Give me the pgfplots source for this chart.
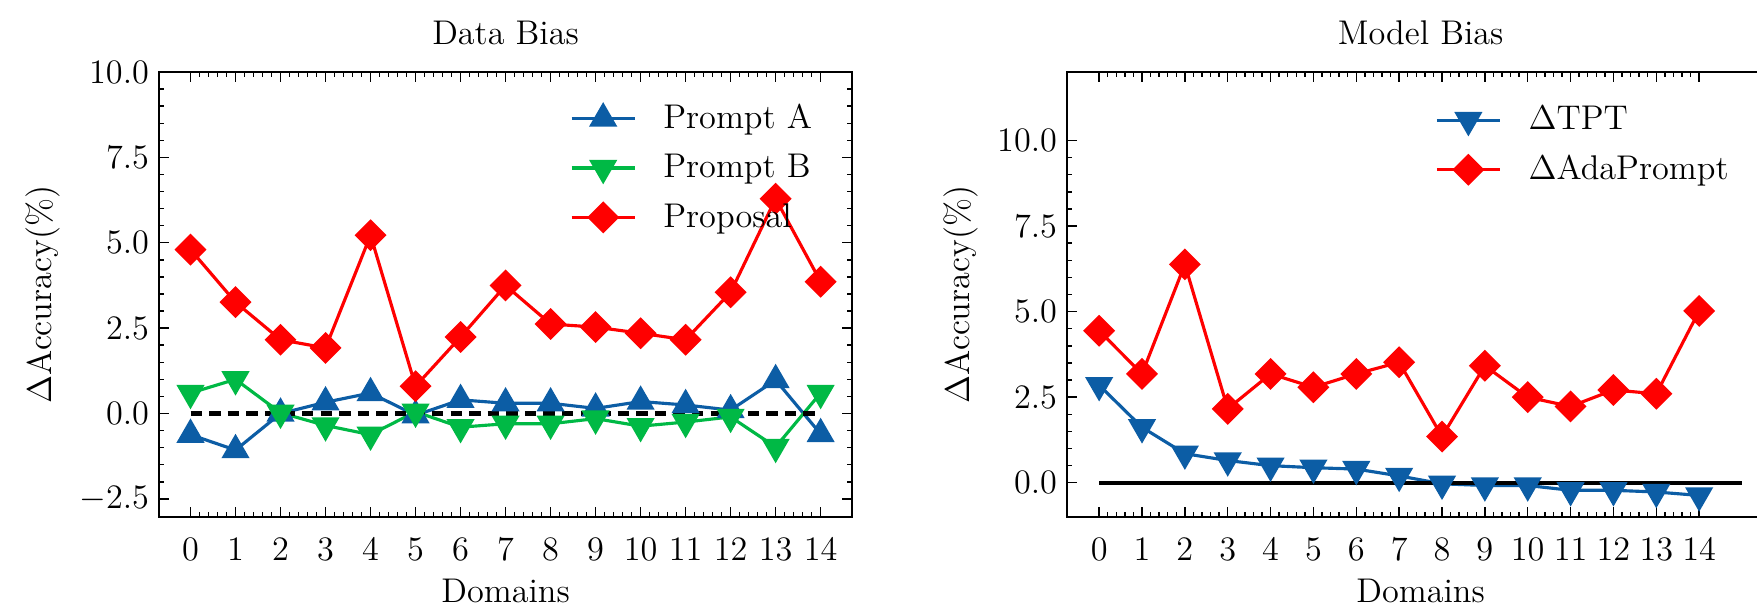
\documentclass[border=0pt]{standalone}
\usepackage{pgfplots}
\pgfplotsset{compat=1.18}

\definecolor{cblue}{HTML}{0C5DA5}
\definecolor{cgreen}{HTML}{00B945}
\definecolor{cred}{HTML}{FF0000}

\pgfplotsset{
  sci/.style={
    scale only axis,
    font=\fontsize{12}{14.4}\selectfont,
    axis line style={line width=0.6pt},
    tick align=inside,
    minor tick num=4,
    major tick length=3.5pt,
    minor tick length=1.75pt,
    every tick/.style={black, line width=0.5pt},
    xtick={0,...,14},
    xticklabel style={yshift=-4pt},
    xlabel={Domains},
    xlabel style={yshift=0.5pt},
    ylabel={$\Delta$Accuracy(\%)},
    yticklabel style={/pgf/number format/.cd, fixed, fixed zerofill, precision=1},
    legend cell align=left,
    legend style={draw=none, fill=none, row sep=3.5pt, font=\fontsize{12}{14.4}\selectfont,
      /tikz/every odd column/.append style={column sep=7.5pt}},
    legend image code/.code={
      \draw[mark repeat=2, mark phase=2] plot coordinates {(0pt,0pt)(11pt,0pt)(22pt,0pt)};
    },
  },
  ln/.style={line width=1.1pt},
  up/.style={ln, mark=triangle*, mark size=4.6pt},
  down/.style={ln, mark=triangle*, mark size=4.6pt, mark options={rotate=180}},
  dia/.style={ln, mark=square*, mark size=3.4pt, mark options={rotate=45}},
}

\begin{document}
\begin{tikzpicture}
\useasboundingbox (-55.65pt,-32.55pt) rectangle (559.3pt,180.95pt);

\begin{axis}[sci,
  at={(0pt,0pt)}, anchor=south west,
  width=242.6pt, height=155.75pt,
  xmin=-0.7, xmax=14.7,
  ymin=-3.03, ymax=10,
  ytick={-2.5,0,2.5,5,7.5,10},
  title={Data Bias},
  legend style={at={(0.58,0.955)}, anchor=north west},
]
\addplot[up, color=cblue] coordinates {
  (0,-0.62)(1,-1.07)(2,0.0)(3,0.33)(4,0.6)(5,-0.05)(6,0.4)(7,0.3)
  (8,0.3)(9,0.15)(10,0.35)(11,0.25)(12,0.1)(13,0.98)(14,-0.6)
};
\addlegendentry{Prompt A}
\addplot[down, color=cgreen] coordinates {
  (0,0.6)(1,1.0)(2,0.02)(3,-0.35)(4,-0.62)(5,0.05)(6,-0.4)(7,-0.3)
  (8,-0.3)(9,-0.15)(10,-0.37)(11,-0.25)(12,-0.1)(13,-0.98)(14,0.6)
};
\addlegendentry{Prompt B}
\addplot[dia, color=cred] coordinates {
  (0,4.8)(1,3.26)(2,2.16)(3,1.92)(4,5.22)(5,0.8)(6,2.24)(7,3.75)
  (8,2.62)(9,2.53)(10,2.35)(11,2.16)(12,3.55)(13,6.29)(14,3.86)
};
\addlegendentry{Proposal}
\addplot[forget plot, black, line width=1.5pt, dash pattern=on 4pt off 2.5pt] coordinates {(0,0)(14,0)};
\end{axis}

\begin{axis}[sci,
  at={(317.8pt,0pt)}, anchor=south west,
  width=247.5pt, height=155.75pt,
  xmin=-0.75, xmax=15.75,
  ymin=-1, ymax=12,
  ytick={0,2.5,5,7.5,10},
  title={Model Bias},
  legend style={at={(0.508,0.95)}, anchor=north west},
]
\addplot[down, color=cblue] coordinates {
  (0,2.85)(1,1.62)(2,0.85)(3,0.65)(4,0.5)(5,0.44)(6,0.4)(7,0.2)
  (8,-0.03)(9,-0.08)(10,-0.08)(11,-0.22)(12,-0.22)(13,-0.27)(14,-0.37)
};
\addlegendentry{$\Delta$TPT}
\addplot[dia, color=cred] coordinates {
  (0,4.44)(1,3.18)(2,6.38)(3,2.16)(4,3.18)(5,2.79)(6,3.18)(7,3.52)
  (8,1.35)(9,3.42)(10,2.5)(11,2.23)(12,2.71)(13,2.6)(14,5.02)
};
\addlegendentry{$\Delta$AdaPrompt}
\addplot[forget plot, black, line width=1.5pt] coordinates {(0,0)(15,0)};
\end{axis}
\end{tikzpicture}
\end{document}
